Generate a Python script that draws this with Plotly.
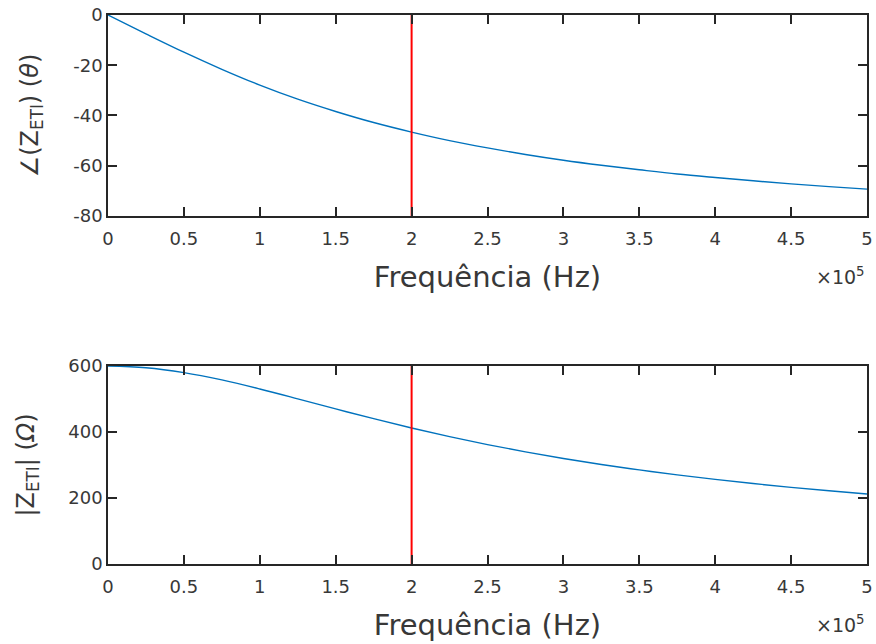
import plotly.graph_objects as go
from plotly.subplots import make_subplots

freq_hz = [0, 25000, 50000, 75000, 100000, 125000, 150000, 175000, 200000, 225000,
           250000, 275000, 300000, 325000, 350000, 375000, 400000, 425000, 450000,
           475000, 500000]
phase_deg = [0, -7.5, -14.8, -21.6, -27.9, -33.5, -38.4, -42.8, -46.6, -50.0,
             -52.9, -55.5, -57.8, -59.8, -61.6, -63.3, -64.7, -66.0, -67.2,
             -68.3, -69.3]
mag_ohm = [600, 594.8, 580.0, 557.7, 530.3, 500.5, 470.0, 440.3, 412.1, 385.9,
           361.8, 339.8, 319.8, 301.6, 285.1, 270.0, 256.3, 243.8, 232.3,
           221.8, 212.1]
marker_freq = 200000
x_tickvals = [0, 50000, 100000, 150000, 200000, 250000, 300000, 350000, 400000, 450000, 500000]
x_ticktext = ["0", "0.5", "1", "1.5", "2", "2.5", "3", "3.5", "4", "4.5", "5"]
phase_ticks = [0, -20, -40, -60, -80]
phase_ticktext = ["0", "-20", "-40", "-60", "-80"]
mag_ticks = [0, 200, 400, 600]
mag_ticktext = ["0", "200", "400", "600"]

FONT = "DejaVu Sans, Liberation Sans, Arial, sans-serif"
AX = "#262626"
TXT = "#383838"

fig = make_subplots(rows=2, cols=1)
fig.add_trace(go.Scatter(x=freq_hz, y=phase_deg, mode="lines",
                         line=dict(color="#0072BD", width=1.4, shape="spline"),
                         showlegend=False), row=1, col=1)
fig.add_trace(go.Scatter(x=[marker_freq, marker_freq], y=[-80, 0], mode="lines",
                         line=dict(color="#ff0000", width=2), showlegend=False), row=1, col=1)
fig.add_trace(go.Scatter(x=freq_hz, y=mag_ohm, mode="lines",
                         line=dict(color="#0072BD", width=1.4, shape="spline"),
                         showlegend=False), row=2, col=1)
fig.add_trace(go.Scatter(x=[marker_freq, marker_freq], y=[0, 600], mode="lines",
                         line=dict(color="#ff0000", width=2), showlegend=False), row=2, col=1)

common_x = dict(range=[0, 500000], tickvals=x_tickvals, ticktext=x_ticktext, showline=True,
                linecolor=AX, linewidth=1.5, mirror="ticks", ticks="inside", ticklen=9,
                tickcolor=AX, tickwidth=1.5, showgrid=False, zeroline=False, automargin=False,
                tickfont=dict(family=FONT, size=18, color=TXT), ticklabelstandoff=6,
                title=dict(text="Frequência (Hz)", font=dict(family=FONT, size=29, color=TXT),
                           standoff=18))
common_y = dict(showline=True, linecolor=AX, linewidth=1.5, mirror="ticks", ticks="inside",
                ticklen=9, tickcolor=AX, tickwidth=1.5, showgrid=False, zeroline=False,
                automargin=False, tickfont=dict(family=FONT, size=18, color=TXT))

fig.update_layout(
    width=876, height=644, paper_bgcolor="white", plot_bgcolor="white",
    margin=dict(l=108, r=9, t=15, b=80),
    xaxis=dict(domain=[0, 1], **common_x),
    xaxis2=dict(domain=[0, 1], **common_x),
    yaxis=dict(domain=[0.6339, 1], range=[-80, 0], tickvals=phase_ticks, ticktext=phase_ticktext,
               title=dict(text="∠(Z<sub>ETI</sub>) (<i>θ</i>)",
                          font=dict(family=FONT, size=24, color=TXT), standoff=28),
               **common_y),
    yaxis2=dict(domain=[0, 0.3607], range=[0, 600], tickvals=mag_ticks, ticktext=mag_ticktext,
                title=dict(text="|Z<sub>ETI</sub>| (<i>Ω</i>)",
                           font=dict(family=FONT, size=24, color=TXT), standoff=27),
                **common_y),
)

for yref_y in [0.6339, 0.0]:
    fig.add_annotation(text="×10<sup>5</sup>", xref="paper", yref="paper", x=1.0, y=yref_y,
                       yshift=-46, xanchor="right", yanchor="top", showarrow=False,
                       font=dict(family=FONT, size=19, color=TXT))

fig.write_html("out.html", post_script="document.body.style.margin='0px';",
               config={"displayModeBar": False})
